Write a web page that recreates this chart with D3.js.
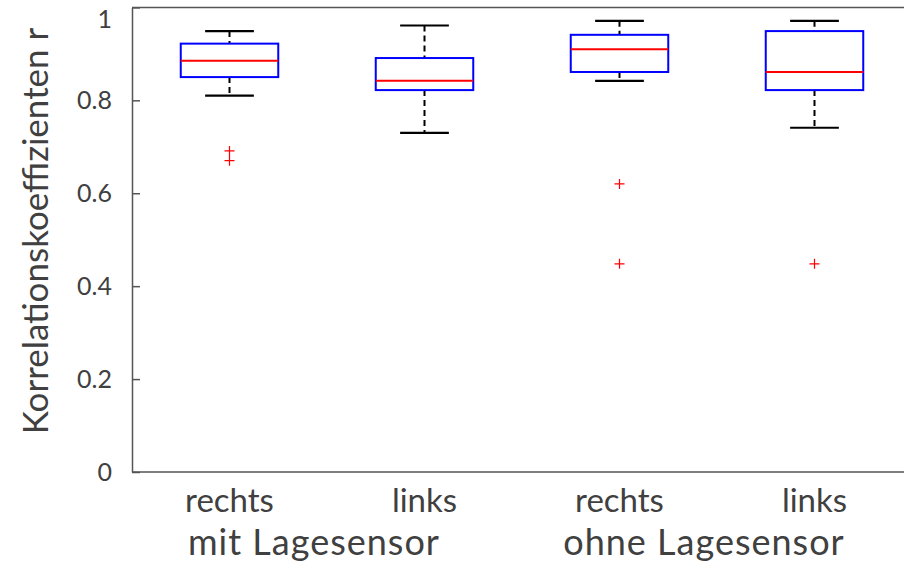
<!DOCTYPE html>
<html>
<head>
<meta charset="utf-8">
<script src="https://cdn.jsdelivr.net/npm/d3@7"></script>
<style>
  body { margin: 0; background: #fff; }
  text { font-family: Lato, "Open Sans", sans-serif; fill: #404040; }
</style>
</head>
<body>
<div id="chart"></div>
<script>
// Werte
const categories = ["rechts", "links", "rechts", "links"];
const groups = ["mit Lagesensor", "ohne Lagesensor"];
const whiskerHigh = [0.949, 0.961, 0.971, 0.971];
const q3 = [0.922, 0.891, 0.941, 0.949];
const median = [0.885, 0.842, 0.910, 0.861];
const q1 = [0.850, 0.822, 0.861, 0.822];
const whiskerLow = [0.810, 0.730, 0.842, 0.741];
const outliers = [[0.691, 0.670], [], [0.620, 0.448], [0.448]];
const yTicks = [0, 0.2, 0.4, 0.6, 0.8, 1];

const W = 904, H = 580;
const svg = d3.select("#chart").append("svg")
    .attr("width", W)
    .attr("height", H);

const x = d3.scaleLinear().domain([0.5, 4.5]).range([132, 912]);
const y = d3.scaleLinear().domain([0, 1]).range([472, 7.4]);
const unit = x(1) - x(0);

const data = categories.map((c, i) => ({
    pos: i + 1, cat: c,
    lo: whiskerLow[i], q1: q1[i], med: median[i], q3: q3[i], hi: whiskerHigh[i],
    out: outliers[i]
}));

// Achsen
const axisColor = "#555";
const gl = svg.append("g")
    .attr("transform", `translate(${x.range()[0]},0)`)
    .call(d3.axisLeft(y).tickValues(yTicks).tickSizeInner(-8).tickSizeOuter(0)
        .tickPadding(20).tickFormat(d3.format("~g")));
gl.select(".domain").attr("stroke", axisColor).attr("stroke-width", 1.5);
gl.selectAll(".tick line").attr("stroke", axisColor).attr("stroke-width", 1.5);
gl.selectAll(".tick text")
    .style("font-size", "25px")
    .attr("fill", "#404040")
    .attr("y", d => d === 1 ? 12 : 0);

const gr = svg.append("g")
    .attr("transform", `translate(${x.range()[1]},0)`)
    .call(d3.axisRight(y).tickValues(yTicks).tickSizeInner(-8).tickSizeOuter(0).tickFormat(""));
gr.select(".domain").attr("stroke", axisColor).attr("stroke-width", 1.5);
gr.selectAll(".tick line").attr("stroke", axisColor).attr("stroke-width", 1.5);

svg.append("line")
    .attr("x1", x.range()[0]).attr("x2", x.range()[1])
    .attr("y1", y(1)).attr("y2", y(1))
    .attr("stroke", axisColor).attr("stroke-width", 1.5);
svg.append("line")
    .attr("x1", x.range()[0]).attr("x2", x.range()[1])
    .attr("y1", y(0)).attr("y2", y(0))
    .attr("stroke", axisColor).attr("stroke-width", 1.5);

// Boxplots
const g = svg.append("g");
const bw = 0.5 * unit, cw = 0.25 * unit;

const box = g.selectAll(".box").data(data).enter().append("g").attr("class", "box");

box.append("line")
    .attr("x1", d => x(d.pos)).attr("x2", d => x(d.pos))
    .attr("y1", d => y(d.hi)).attr("y2", d => y(d.q3))
    .attr("stroke", "#000").attr("stroke-width", 2).attr("stroke-dasharray", "6,4");
box.append("line")
    .attr("x1", d => x(d.pos)).attr("x2", d => x(d.pos))
    .attr("y1", d => y(d.q1)).attr("y2", d => y(d.lo))
    .attr("stroke", "#000").attr("stroke-width", 2).attr("stroke-dasharray", "6,4");

["hi", "lo"].forEach(k => {
    box.append("line")
        .attr("x1", d => x(d.pos) - cw / 2).attr("x2", d => x(d.pos) + cw / 2)
        .attr("y1", d => y(d[k])).attr("y2", d => y(d[k]))
        .attr("stroke", "#000").attr("stroke-width", 2.2);
});

box.append("rect")
    .attr("x", d => x(d.pos) - bw / 2)
    .attr("width", bw)
    .attr("y", d => y(d.q3))
    .attr("height", d => y(d.q1) - y(d.q3))
    .attr("fill", "none").attr("stroke", "#0000ff").attr("stroke-width", 2);

box.append("line")
    .attr("x1", d => x(d.pos) - bw / 2).attr("x2", d => x(d.pos) + bw / 2)
    .attr("y1", d => y(d.med)).attr("y2", d => y(d.med))
    .attr("stroke", "#ff0000").attr("stroke-width", 2);

// Ausreisser
const pts = data.flatMap(d => d.out.map(v => ({ pos: d.pos, v })));
g.selectAll(".out").data(pts).enter().append("path")
    .attr("class", "out")
    .attr("d", d => {
        const cx = x(d.pos), cy = y(d.v), s = 5;
        return `M${cx - s},${cy}H${cx + s}M${cx},${cy - s}V${cy + s}`;
    })
    .attr("stroke", "#ff0000").attr("stroke-width", 1.2).attr("fill", "none");

// Beschriftungen
svg.selectAll(".cat").data(data).enter().append("text")
    .attr("class", "cat")
    .attr("x", d => x(d.pos))
    .attr("y", 512)
    .attr("text-anchor", "middle")
    .style("font-size", "33px")
    .text(d => d.cat);

svg.selectAll(".grp").data(groups).enter().append("text")
    .attr("class", "grp")
    .attr("x", (d, i) => x(1.5 + 2 * i) - 13)
    .attr("y", 555)
    .attr("text-anchor", "middle")
    .style("font-size", "36px")
    .style("letter-spacing", "1px")
    .text(d => d);

svg.append("text")
    .attr("transform", `translate(48,231) rotate(-90)`)
    .attr("text-anchor", "middle")
    .style("font-size", "35px")
    .text("Korrelationskoeffizienten r");
</script>
</body>
</html>
